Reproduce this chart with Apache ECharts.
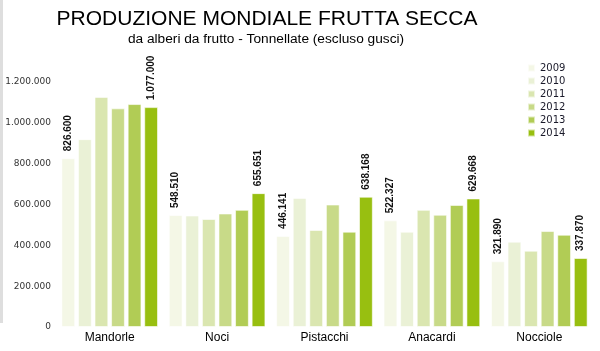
<!DOCTYPE html>
<html>
<head>
<meta charset="utf-8">
<script src="https://cdn.jsdelivr.net/npm/echarts@6/dist/echarts.min.js"></script>
<style>html,body{margin:0;padding:0;background:#fff;}#c{width:600px;height:351px;}</style>
</head>
<body>
<div id="c"></div>
<script>
var categories = ['Mandorle', 'Noci', 'Pistacchi', 'Anacardi', 'Nocciole'];
var years = ['2009', '2010', '2011', '2012', '2013', '2014'];
var v2009 = [826600, 548510, 446141, 522327, 321890];
var v2010 = [920000, 546000, 632000, 467000, 418000];
var v2011 = [1127000, 529000, 475000, 574000, 374000];
var v2012 = [1071000, 556000, 600000, 550000, 470000];
var v2013 = [1092000, 574000, 467000, 598000, 452000];
var v2014 = [1077000, 655651, 638168, 629668, 337870];
var yTicks = [0, 200000, 400000, 600000, 800000, 1000000, 1200000];
var titleText = 'PRODUZIONE MONDIALE FRUTTA SECCA';
var subtitleText = 'da alberi da frutto - Tonnellate (escluso gusci)';

var seriesValues = [v2009, v2010, v2011, v2012, v2013, v2014];
var colors = ['#f4f7e6', '#eaf1d6', '#dae6b0', '#c8da88', '#b1cc55', '#98bf10'];
var labelled = [true, false, false, false, false, true];

function fmt(v) { return String(v).replace(/\B(?=(\d{3})+(?!\d))/g, '.'); }

var series = years.map(function (y, i) {
  return {
    name: y,
    type: 'bar',
    data: seriesValues[i],
    barGap: '20%',
    barCategoryGap: '10%',
    itemStyle: { color: colors[i], borderColor: 'rgba(255,255,255,0.6)', borderWidth: 1 },
    label: {
      show: labelled[i],
      position: 'top',
      rotate: 90,
      align: 'left',
      verticalAlign: 'middle',
      distance: 7,
      fontFamily: 'Liberation Sans',
      fontSize: 10,
      fontWeight: 'bold',
      color: '#111',
      formatter: function (p) { return fmt(p.value); }
    }
  };
});

var chart = echarts.init(document.getElementById('c'), null, { renderer: 'canvas' });
chart.setOption({
  animation: false,
  color: colors,
  title: [
    { text: titleText, left: 262, top: 4, textAlign: 'center',
      textStyle: { fontFamily: 'Liberation Sans', fontSize: 21, fontWeight: 'normal', color: '#000' } },
    { text: subtitleText, left: 261, top: 27, textAlign: 'center',
      textStyle: { fontFamily: 'Liberation Sans', fontSize: 13.7, fontWeight: 'normal', color: '#000' } }
  ],
  legend: {
    orient: 'vertical',
    left: 522,
    top: 57,
    itemWidth: 7,
    itemHeight: 7,
    itemGap: 1,
    icon: 'rect',
    data: years,
    textStyle: { fontFamily: 'DejaVu Sans', fontSize: 10, color: '#1a1a2a', lineHeight: 12 }
  },
  grid: { left: 56, right: 7, top: 82, bottom: 24, containLabel: false },
  xAxis: {
    type: 'category',
    data: categories,
    axisLine: { show: false },
    axisTick: { show: false },
    axisLabel: { margin: 5, fontFamily: 'Liberation Sans', fontSize: 12, color: '#000' }
  },
  yAxis: {
    type: 'value',
    min: yTicks[0],
    max: yTicks[yTicks.length - 1],
    interval: yTicks[1] - yTicks[0],
    splitLine: { show: false },
    axisLine: { show: false },
    axisTick: { show: false },
    axisLabel: { margin: 5, fontFamily: 'DejaVu Sans', fontSize: 9, color: '#333',
      formatter: function (v) { return fmt(v); } }
  },
  graphic: [
    { type: 'rect', shape: { x: 0, y: 0, width: 3, height: 323 }, style: { fill: '#dedede' }, silent: true }
  ],
  series: series
});
</script>
</body>
</html>
